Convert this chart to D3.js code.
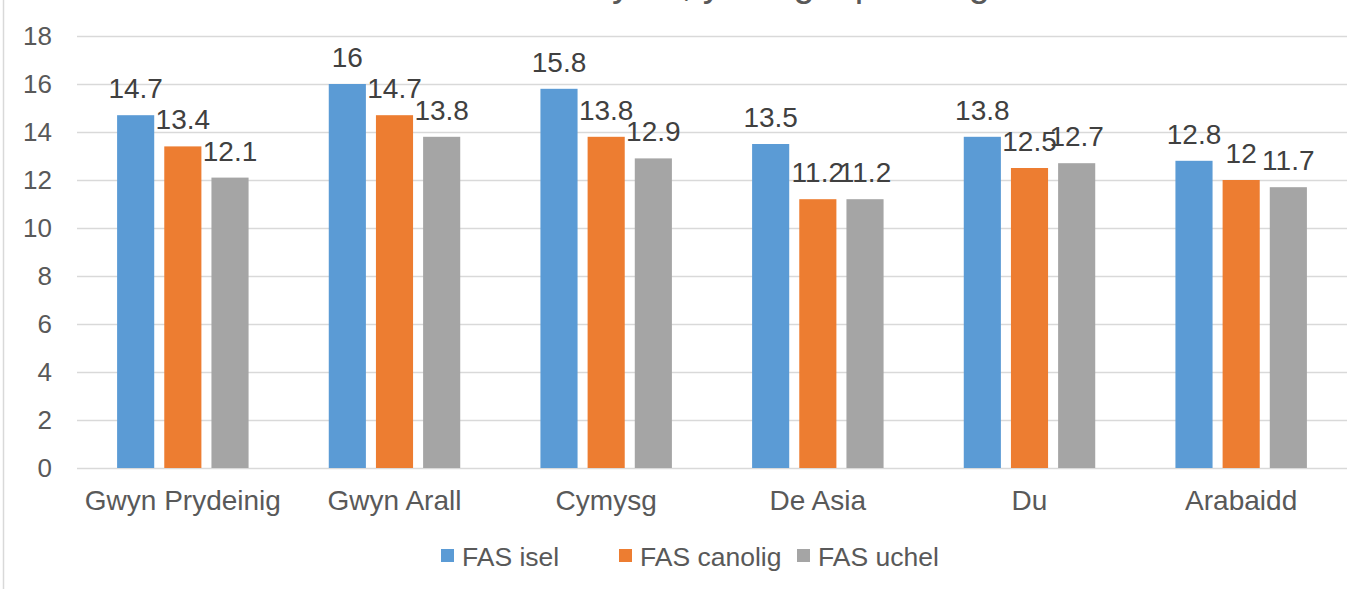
<!DOCTYPE html>
<html>
<head>
<meta charset="utf-8">
<script src="https://cdn.jsdelivr.net/npm/d3@7"></script>
<style>
  html, body { margin: 0; padding: 0; background: #ffffff; }
  svg { display: block; font-family: "Liberation Sans", Arial, sans-serif; }
</style>
</head>
<body>
<svg id="chart" width="1351" height="589"></svg>
<script>
// Categories (ethnic group) and the three FAS series
const categories = ["Gwyn Prydeinig", "Gwyn Arall", "Cymysg", "De Asia", "Du", "Arabaidd"];
const seriesNames = ["FAS isel", "FAS canolig", "FAS uchel"];
const fasIsel    = [14.7, 16, 15.8, 13.5, 13.8, 12.8];
const fasCanolig = [13.4, 14.7, 13.8, 11.2, 12.5, 12];
const fasUchel   = [12.1, 13.8, 12.9, 11.2, 12.7, 11.7];
const yTicks = [0, 2, 4, 6, 8, 10, 12, 14, 16, 18];
const titleText = "Anawsterau emosiynol, yn ôl grŵp ethnig";

const seriesValues = [fasIsel, fasCanolig, fasUchel];
const colours = ["#5B9BD5", "#ED7D31", "#A5A5A5"];

const svg = d3.select("#chart");

// plot area
const plot = { left: 77, right: 1347, top: 36, bottom: 468 };

const y = d3.scaleLinear().domain([0, 18]).range([plot.bottom, plot.top]);
const x0 = d3.scaleBand().domain(categories).range([plot.left, plot.right]);
const x1 = d3.scaleBand().domain(seriesNames).range([0, x0.bandwidth()])
  .paddingInner(0.213).paddingOuter(0.85);
const colour = d3.scaleOrdinal().domain(seriesNames).range(colours);

// chart-area border on the left
svg.append("line")
  .attr("x1", 3.5).attr("x2", 3.5).attr("y1", 0).attr("y2", 589)
  .attr("stroke", "#D9D9D9").attr("stroke-width", 1.5);

// title (sits at the very top edge)
svg.append("text")
  .attr("x", 990).attr("y", -4)
  .attr("text-anchor", "end")
  .attr("font-size", 38)
  .attr("fill", "#595959")
  .text(titleText);

// value axis with gridlines
const yAxis = svg.append("g")
  .attr("transform", `translate(${plot.left},0)`)
  .call(d3.axisLeft(y).tickValues(yTicks).tickSize(-(plot.right - plot.left)).tickPadding(25));
yAxis.select(".domain").remove();
yAxis.selectAll(".tick line").attr("stroke", "#D9D9D9").attr("stroke-width", 1.5);
yAxis.selectAll(".tick text")
  .attr("font-size", 26).attr("fill", "#595959")
  .attr("font-family", "Liberation Sans, Arial, sans-serif");

// category axis
const xAxis = svg.append("g")
  .attr("transform", `translate(0,${plot.bottom})`)
  .call(d3.axisBottom(x0).tickSize(0).tickPadding(22));
xAxis.select(".domain").remove();
xAxis.selectAll(".tick text")
  .attr("font-size", 28).attr("fill", "#595959")
  .attr("font-family", "Liberation Sans, Arial, sans-serif");

// bars
const rows = categories.map((c, i) => ({
  category: c,
  values: seriesNames.map((s, j) => ({ series: s, value: seriesValues[j][i] }))
}));

const groups = svg.append("g").selectAll("g")
  .data(rows).join("g")
  .attr("transform", d => `translate(${x0(d.category)},0)`);

groups.selectAll("rect")
  .data(d => d.values).join("rect")
  .attr("x", d => x1(d.series))
  .attr("y", d => y(d.value))
  .attr("width", x1.bandwidth())
  .attr("height", d => y(0) - y(d.value))
  .attr("fill", d => colour(d.series));

// data labels above each bar
groups.selectAll("text.label")
  .data(d => d.values).join("text")
  .attr("class", "label")
  .attr("x", d => x1(d.series) + x1.bandwidth() / 2)
  .attr("y", d => y(d.value) - 17)
  .attr("text-anchor", "middle")
  .attr("font-size", 28)
  .attr("fill", "#404040")
  .text(d => d3.format("~g")(d.value));

// legend
const legendX = d3.scaleBand().domain(seriesNames).range([441, 441 + 3 * 178]);
const legend = svg.append("g").selectAll("g")
  .data(seriesNames).join("g")
  .attr("transform", d => `translate(${legendX(d)},549)`);
legend.append("rect")
  .attr("width", 13).attr("height", 13)
  .attr("fill", d => colour(d));
legend.append("text")
  .attr("x", 21).attr("y", 17)
  .attr("font-size", 26.5)
  .attr("fill", "#595959")
  .text(d => d);
</script>
</body>
</html>
